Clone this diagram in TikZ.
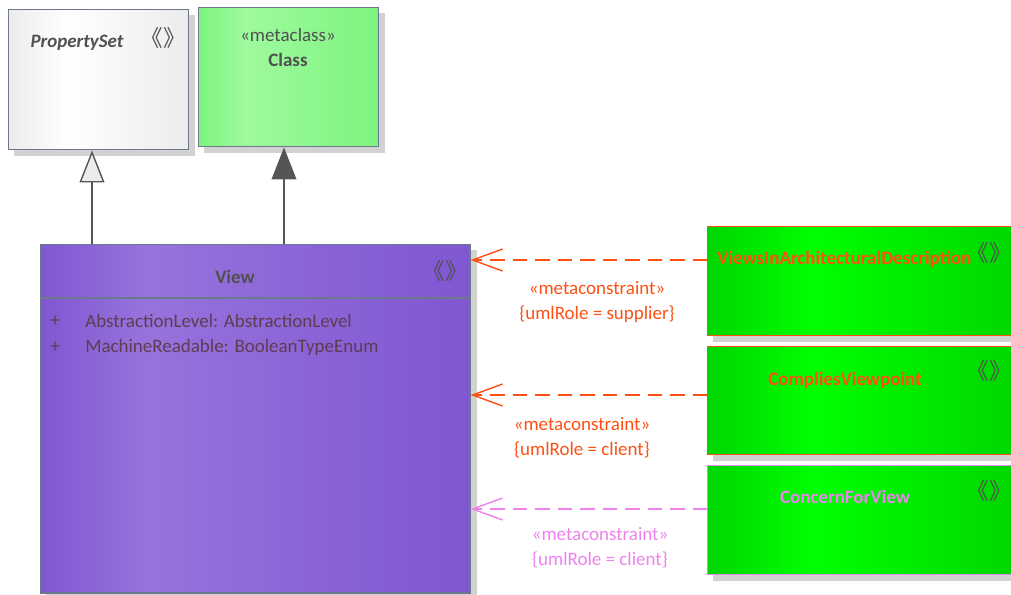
\documentclass[tikz,border=0pt]{standalone}
\usepackage{fontspec}
\setmainfont{Carlito}
\newfontfamily\cjk{Noto Sans CJK SC}
\usetikzlibrary{positioning,arrows.meta,backgrounds,calc}
\definecolor{umlline}{RGB}{85,85,85}
\definecolor{boxrule}{RGB}{110,120,140}
\definecolor{viewfill}{RGB}{127,87,210}
\definecolor{viewlight}{RGB}{150,115,220}
\definecolor{classfill}{RGB}{126,243,126}
\definecolor{classlight}{RGB}{158,250,158}
\definecolor{psetfill}{RGB}{236,236,236}
\definecolor{reqgreen}{RGB}{0,255,0}
\definecolor{reqdark}{RGB}{0,214,0}
\definecolor{mcorange}{RGB}{255,80,20}
\definecolor{mcviolet}{RGB}{238,130,238}
\definecolor{titletext}{RGB}{80,80,80}
\definecolor{attrtext}{RGB}{95,60,80}
\definecolor{shadowgray}{RGB}{210,210,210}
\pgfdeclarehorizontalshading{psetshade}{100bp}{color(0bp)=(psetfill); color(25bp)=(psetfill); color(41bp)=(white); color(75bp)=(psetfill); color(100bp)=(psetfill)}
\pgfdeclarehorizontalshading{classshade}{100bp}{color(0bp)=(classfill); color(25bp)=(classfill); color(38bp)=(classlight); color(75bp)=(classfill); color(100bp)=(classfill)}
\pgfdeclarehorizontalshading{viewshade}{100bp}{color(0bp)=(viewfill); color(25bp)=(viewfill); color(37bp)=(viewlight); color(75bp)=(viewfill); color(100bp)=(viewfill)}
\pgfdeclarehorizontalshading{reqshade}{100bp}{color(0bp)=(reqdark); color(25bp)=(reqdark); color(42bp)=(reqgreen); color(75bp)=(reqdark); color(100bp)=(reqdark)}
\newcommand{\stereo}{{\cjk\fontsize{16}{18}\selectfont\kern-0.45em《》\kern-0.45em}}
\tikzset{
  umlbox/.style={rectangle,draw=boxrule,line width=1pt,anchor=north west,inner sep=0pt},
  psetbox/.style={umlbox,shade,shading=psetshade},
  classbox/.style={umlbox,shade,shading=classshade},
  viewbox/.style={umlbox,shade,shading=viewshade},
  reqbox/.style={umlbox,shade,shading=reqshade},
  boxtext/.style={font=\fontsize{13.5}{16}\selectfont,text=titletext,inner sep=0pt},
  attr/.style={font=\fontsize{13.5}{16}\selectfont,text=attrtext,anchor=west,inner sep=0pt},
  mclabel/.style={font=\fontsize{13.5}{17.7}\selectfont,align=center,inner sep=0pt},
  genedge/.style={draw=umlline,line width=1pt},
  mcedge/.style={line width=1pt,dash pattern=on 10pt off 6pt,-{Straight Barb[length=7.5mm,width=5.5mm,line width=1pt]}},
  boxshadow/.style={fill=shadowgray}
}

\begin{document}
\begin{tikzpicture}[x=0.025cm,y=-0.025cm]
  \useasboundingbox (0,0) rectangle (1011,594);
  % superclasses
  \node[psetbox,minimum width=4.5cm,minimum height=3.5cm] (pset) at (8,9) {};
  \node[boxtext,font=\fontsize{13.5}{16}\selectfont\bfseries\itshape] (psetname) at (77,43) {PropertySet};
  \node[boxtext] (psetst) at (163,38) {\stereo};
  \node[classbox,minimum width=4.5cm,minimum height=3.475cm] (class) at (198,7) {};
  \node[boxtext] (classst) at (288,35) {«metaclass»};
  \node[boxtext,font=\fontsize{13.5}{16}\selectfont\bfseries] (classname) at (288,60) {Class};
  % the metaclass
  \node[viewbox,minimum width=10.725cm,minimum height=8.7cm] (view) at (40,244) {};
  \draw[boxrule,line width=1pt] ($(view.north west)+(0,54)$) -- ($(view.north east)+(0,54)$);
  \node[boxtext,font=\fontsize{13.5}{16}\selectfont\bfseries] (viewname) at (235,277) {View};
  \node[boxtext] (viewst) at (445,271) {\stereo};
  \node[attr] (vis1) at (50,321) {+};
  \node[attr] (att1) at (85,321) {AbstractionLevel: AbstractionLevel};
  \node[attr] (vis2) at (50,347) {+};
  \node[attr] (att2) at (85,347) {MachineReadable: BooleanTypeEnum};
  % constraint classes
  \node[reqbox,draw=mcorange,minimum width=7.825cm,minimum height=2.725cm] (vid) at (707,226) {};
  \node[boxtext,text=mcorange,anchor=west,font=\fontsize{13.5}{16}\selectfont\bfseries] (vidname) at (717,259) {ViewsInArchitecturalDescription};
  \node[boxtext] (vidst) at (989,253) {\stereo};
  \node[reqbox,draw=mcorange,minimum width=7.825cm,minimum height=2.7cm] (cvp) at (707,346) {};
  \node[boxtext,text=mcorange,font=\fontsize{13.5}{16}\selectfont\bfseries] (cvpname) at (845,380) {CompliesViewpoint};
  \node[boxtext] (cvpst) at (989,371) {\stereo};
  \node[reqbox,draw=mcviolet,minimum width=7.825cm,minimum height=2.725cm] (cfv) at (707,465) {};
  \node[boxtext,text=mcviolet,font=\fontsize{13.5}{16}\selectfont\bfseries] (cfvname) at (845,497) {ConcernForView};
  \node[boxtext] (cfvst) at (989,491) {\stereo};
  % shadows
  \begin{scope}[on background layer]
    \foreach \b in {pset,class,view,vid,cvp,cfv}
      \fill[boxshadow] ($(\b.north west)+(6,6)$) rectangle ($(\b.south east)+(6,6)$);
  \end{scope}
  % generalizations
  \coordinate (g1) at (92,244);
  \coordinate (g2) at (284,244);
  \draw[genedge,-{Triangle[open,length=8mm,width=6.2mm,line width=1pt,fill=psetfill]}] (g1) -- (g1 |- pset.south);
  \draw[genedge,-{Triangle[length=8mm,width=6.2mm,line width=1pt]},fill=umlline] (g2) -- (g2 |- class.south);
  % metaconstraints
  \coordinate (m1) at (707,260);
  \coordinate (m2) at (707,395);
  \coordinate (m3) at (707,509);
  \draw[mcedge,mcorange] (m1) -- (m1 -| view.east);
  \draw[mcedge,mcorange] (m2) -- (m2 -| view.east);
  \draw[mcedge,mcviolet] (m3) -- (m3 -| view.east);
  \node[mclabel,text=mcorange] (l1) at (597,302) {«metaconstraint»\\\{umlRole = supplier\}};
  \node[mclabel,text=mcorange] (l2) at (582,438) {«metaconstraint»\\\{umlRole = client\}};
  \node[mclabel,text=mcviolet] (l3) at (600,548) {«metaconstraint»\\\{umlRole = client\}};
\end{tikzpicture}
\end{document}
